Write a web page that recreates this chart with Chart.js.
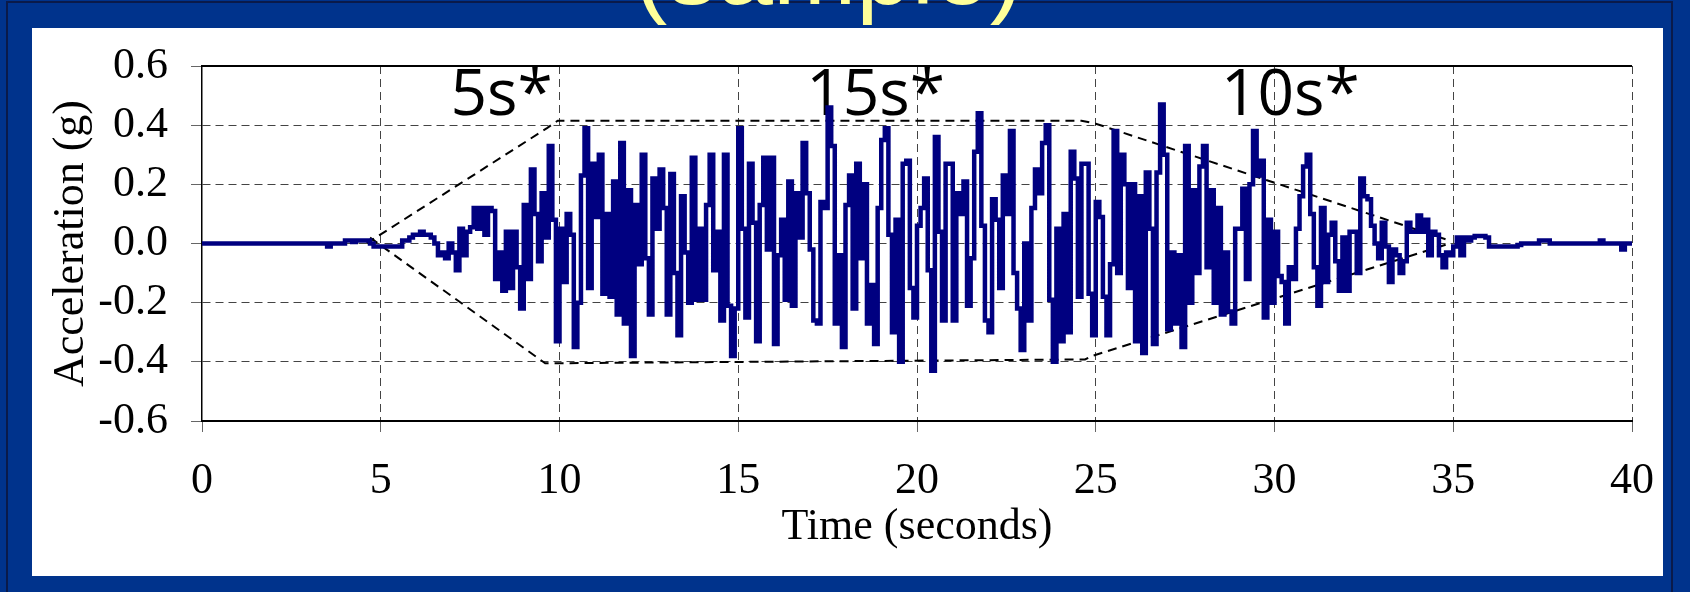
<!DOCTYPE html>
<html>
<head>
<meta charset="utf-8">
<script src="https://cdn.jsdelivr.net/npm/chart.js@4.4.1/dist/chart.umd.min.js"></script>
<style>
  html, body { margin: 0; padding: 0; }
  body { width: 1690px; height: 592px; background: #00338c; position: relative; overflow: hidden; }
  .edge { position: absolute; left: 6px; top: 1px; width: 1663px; height: 620px; border: 2px solid #0a1a4a; }
  .banner { position: absolute; left: 634px; top: -81px; font: 100px "Liberation Sans"; line-height: 1; color: #ffff99; white-space: nowrap; }
  .panel { position: absolute; left: 32px; top: 28px; width: 1631px; height: 548px; background: #fff; }
  canvas { display: block; }
</style>
</head>
<body>
<div class="edge"></div>
<div class="banner">(sample)</div>
<div class="panel"><canvas id="chart" width="1631" height="548"></canvas></div>
<script>
// acceleration record, sampled every 0.1 s starting at 3.5 s (zero before that)
var accelStart = 3.5;
var accelStep = 0.1;
var accel = [
    0, -0.01, 0, 0, 0,
    0, 0.01, 0.01, 0.005, 0.01, 0.01, 0.01, 0.01, 0, -0.01,
    -0.01, -0.01, -0.01, -0.01, -0.01, -0.01, -0.01, 0.01, 0.01, 0.02,
    0.03, 0.03, 0.04, 0.03, 0.03, 0.02, 0.0, -0.04, -0.03, -0.05,
    0.0, -0.03, -0.09, 0.05, -0.04, 0.04, 0.055, 0.12, 0.05, 0.12,
    0.03, 0.12, 0.11, -0.12, -0.03, -0.16, 0.04, -0.15, 0.04, -0.08,
    -0.22, 0.13, -0.12, 0.25, 0.10, -0.06, 0.17, 0.02, 0.33, 0.08,
    -0.33, 0.05, -0.13, 0.10, 0.03, -0.35, -0.20, 0.23, 0.39, -0.15,
    0.27, 0.09, 0.30, -0.17, 0.10, -0.18, 0.21, -0.24, 0.34, -0.27,
    0.18, -0.38, 0.13, -0.07, 0.30, -0.05, -0.24, 0.22, 0.05, 0.25,
    0.12, -0.24, 0.235, -0.10, -0.31, 0.16, -0.03, -0.20, 0.29, -0.19,
    0.05, -0.19, 0.13, 0.30, -0.09, 0.04, -0.26, 0.30, -0.21, -0.38,
    -0.22, 0.39, 0.05, -0.25, 0.27, 0.07, -0.33, 0.13, 0.29, -0.02,
    0.29, -0.34, -0.04, 0.08, -0.19, 0.21, -0.21, 0.17, 0.02, 0.34,
    0.17, -0.02, -0.26, -0.27, 0.14, 0.12, 0.46, 0.33, -0.27, -0.04,
    -0.35, 0.13, 0.23, -0.22, 0.27, -0.05, 0.20, -0.27, -0.14, -0.34,
    0.12, 0.35, 0.39, 0.03, -0.30, 0.08, -0.40, 0.27, 0.28, -0.15,
    -0.25, 0.06, 0.12, 0.22, -0.09, -0.43, 0.36, 0.04, -0.26, 0.27,
    0.27, -0.26, 0.17, 0.10, 0.21, -0.21, -0.05, 0.31, 0.44, 0.06,
    -0.26, -0.30, 0.15, 0.08, -0.15, 0.23, 0.10, 0.38, -0.10, -0.22,
    -0.36, 0.0, -0.26, 0.12, 0.25, 0.17, 0.34, 0.40, -0.19, -0.40,
    0.05, -0.33, 0.10, -0.30, 0.31, 0.22, -0.18, 0.27, 0.27, -0.17,
    -0.31, 0.14, 0.09, -0.18, -0.31, -0.07, 0.38, -0.10, 0.30, 0.20,
    -0.15, 0.20, -0.33, 0.16, -0.37, 0.24, 0.05, -0.34, 0.24, 0.47,
    0.30, -0.29, -0.03, -0.27, -0.04, -0.35, 0.33, -0.20, 0.18, -0.10,
    0.26, 0.33, -0.08, 0.18, -0.20, 0.12, -0.24, -0.03, -0.23, -0.27,
    0.05, 0.05, 0.185, -0.12, 0.20, 0.38, 0.23, 0.28, -0.25, 0.08,
    -0.20, 0.04, -0.11, -0.13, -0.27, -0.08, -0.12, 0.05, 0.16, 0.26,
    0.30, 0.10, -0.08, -0.21, 0.12, -0.13, 0.03, 0.07, -0.06, -0.16,
    0.02, -0.16, 0.04, 0.04, -0.10, 0.22, 0.16, 0.15, 0.06, 0.0,
    -0.05, 0.07, -0.01, -0.13, -0.02, -0.04, -0.10, -0.06, 0.07, 0.04,
    0.04, 0.095, 0.04, 0.08, -0.04, 0.04, 0.03, -0.04, -0.08, -0.03,
    -0.04, -0.01, 0.02, -0.04, 0.02, 0.01, 0.02, 0.025, 0.025, 0.025,
    0.02, -0.01, -0.01, -0.01, -0.01, -0.01, -0.01, -0.01, -0.01, -0.005,
    0, 0, 0, 0, 0, 0.01, 0.01, 0.01, 0, 0,
    0, 0, 0, 0, 0, 0, 0, 0, 0, 0,
    0, 0, 0.01, 0, 0, 0, 0, 0, -0.02, 0,
    0
];

// hand drawn envelope (build-up 5s, strong 15s, decay 10s)
var upperEnvT = [4.6, 9.65, 9.95, 24.6, 25.0, 34.9];
var upperEnvV = [0.0, 0.39, 0.415, 0.415, 0.405, 0.01];
var lowerEnvT = [4.7, 9.6, 24.7, 24.9, 34.9];
var lowerEnvV = [0.02, -0.405, -0.392, -0.38, 0.0];

var phaseLabels = ["5s*", "15s*", "10s*"];
var phaseLabelT = [6.95, 16.9, 28.5];
var phaseLabelV = 0.434;

var serif = '"Liberation Serif", "Times New Roman", serif';

var accelPoints = [{ x: 0, y: 0 }];
for (var i = 0; i < accel.length; i++) {
    accelPoints.push({ x: +(accelStart + i * accelStep).toFixed(2), y: accel[i] });
}

function pairs(ts, vs) {
    return ts.map(function (t, i) { return { x: t, y: vs[i] }; });
}

var overlay = {
    id: "overlay",
    beforeDatasetsDraw: function (chart) {
        var ctx = chart.ctx, x = chart.scales.x, y = chart.scales.y;
        ctx.save();
        ctx.font = '64px "Open Sans"';
        ctx.fillStyle = "#000";
        ctx.textBaseline = "alphabetic";
        for (var i = 0; i < phaseLabels.length; i++) {
            ctx.fillText(phaseLabels[i], x.getPixelForValue(phaseLabelT[i]), y.getPixelForValue(phaseLabelV));
        }
        ctx.restore();
    },
    afterDatasetsDraw: function (chart) {
        var ctx = chart.ctx, a = chart.chartArea;
        // solid top edge of the plot area
        ctx.save();
        ctx.strokeStyle = "#000";
        ctx.lineWidth = 2;
        ctx.beginPath();
        ctx.moveTo(a.left, a.top);
        ctx.lineTo(a.right, a.top);
        ctx.stroke();
        ctx.restore();
    }
};

var chart = new Chart(document.getElementById("chart").getContext("2d"), {
    type: "line",
    data: {
        datasets: [{
            label: "Acceleration",
            data: accelPoints,
            borderColor: "#000080",
            borderWidth: 4.5,
            stepped: "after",
            pointRadius: 0,
            fill: false
        }, {
            label: "Upper envelope",
            data: pairs(upperEnvT, upperEnvV),
            borderColor: "#000",
            borderWidth: 2,
            borderDash: [9, 6],
            pointRadius: 0,
            fill: false
        }, {
            label: "Lower envelope",
            data: pairs(lowerEnvT, lowerEnvV),
            borderColor: "#000",
            borderWidth: 2,
            borderDash: [9, 6],
            pointRadius: 0,
            fill: false
        }]
    },
    options: {
        responsive: false,
        animation: false,
        events: [],
        layout: { padding: { top: 38, right: 31, left: 0, bottom: 0 } },
        plugins: { legend: { display: false }, tooltip: { enabled: false } },
        scales: {
            x: {
                type: "linear",
                min: 0,
                max: 40,
                afterFit: function (s) { s.height = 155; s.paddingLeft = 0; s.paddingRight = 0; },
                ticks: { stepSize: 5, color: "#000", padding: 23, font: { family: serif, size: 44 } },
                grid: {
                    color: function (c) { return c.tick && c.tick.value === 0 ? "rgba(0,0,0,0)" : "#444"; },
                    lineWidth: 1,
                    tickLength: 11,
                    tickColor: "#666",
                    tickBorderDash: []
                },
                border: { display: true, color: "#000", width: 2, dash: [8, 5] },
                title: { display: true, text: "Time (seconds)", color: "#000", font: { family: serif, size: 44 }, padding: { top: 0, bottom: 22 } }
            },
            y: {
                min: -0.6,
                max: 0.6,
                afterFit: function (s) { s.width = 170; s.paddingTop = 0; s.paddingBottom = 0; },
                ticks: {
                    stepSize: 0.2,
                    color: "#000",
                    padding: 23,
                    font: { family: serif, size: 44 },
                    callback: function (v) { return (Math.abs(v) < 1e-9 ? 0 : v).toFixed(1); }
                },
                grid: {
                    color: function (c) { return c.tick && Math.abs(Math.abs(c.tick.value) - 0.6) < 1e-6 ? "rgba(0,0,0,0)" : "#444"; },
                    lineWidth: 1,
                    tickLength: 11,
                    tickColor: "#666",
                    tickBorderDash: []
                },
                border: { display: true, color: "#000", width: 1.5, dash: [8, 5] },
                title: { display: true, text: "Acceleration (g)", color: "#000", font: { family: serif, size: 44 }, padding: { top: 13, bottom: 0 } }
            }
        }
    },
    plugins: [overlay]
});
</script>
</body>
</html>
